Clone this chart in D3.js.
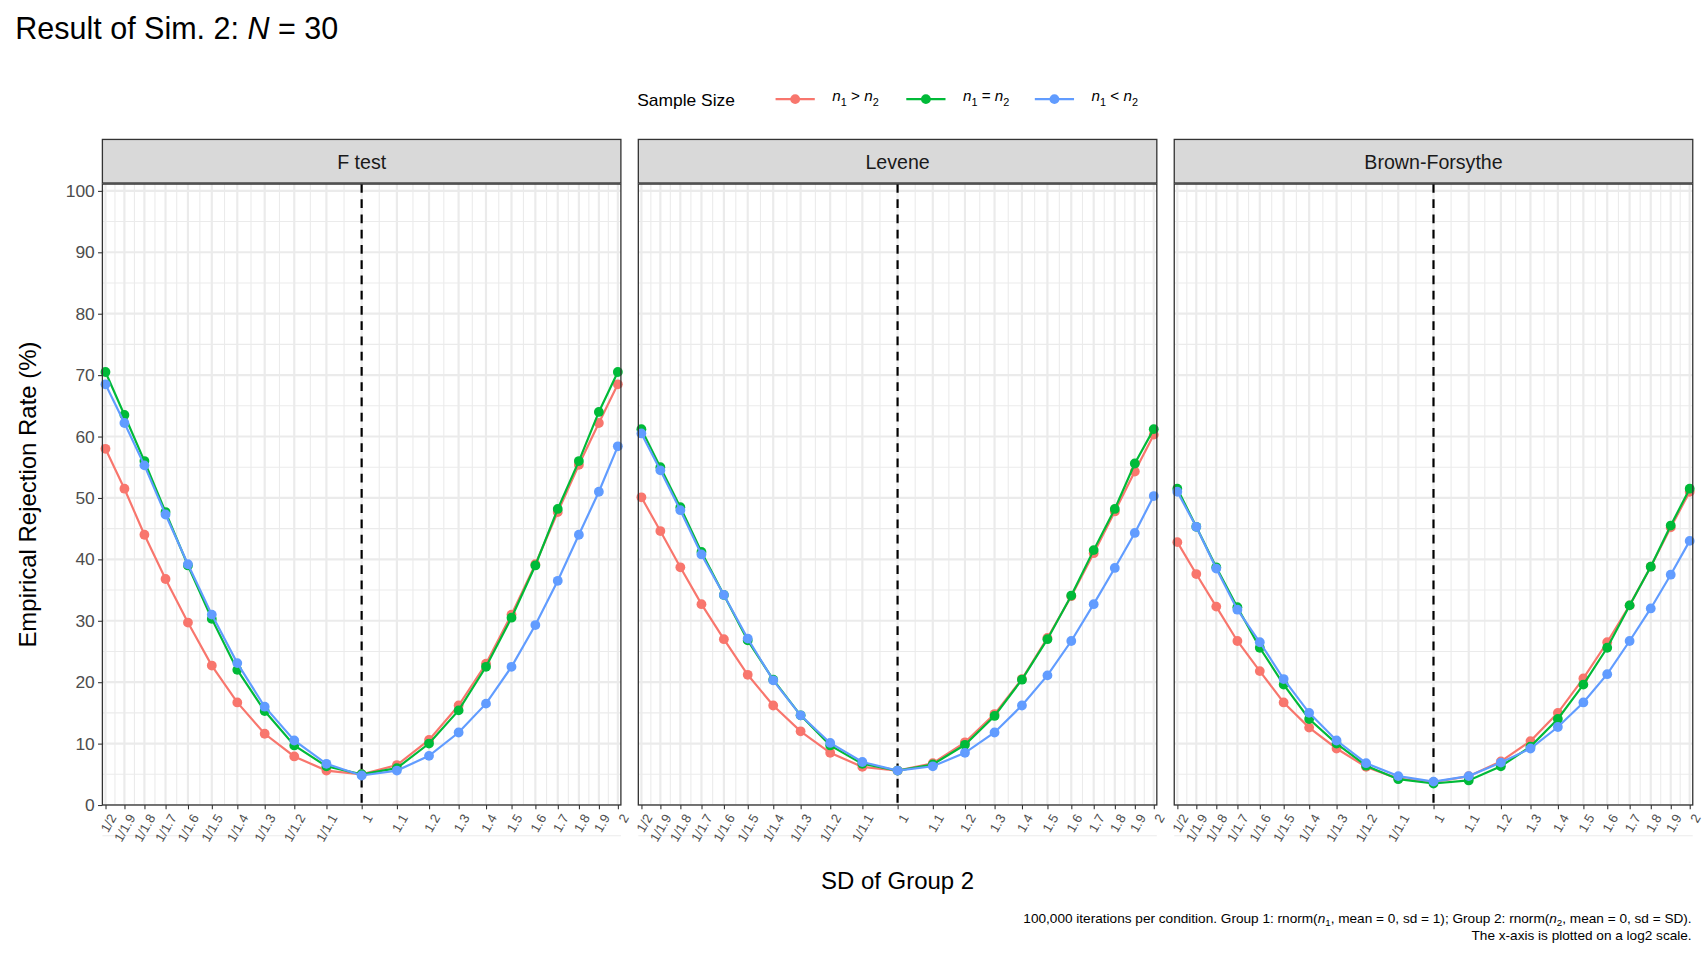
<!DOCTYPE html>
<html><head><meta charset="utf-8">
<script src="https://cdn.jsdelivr.net/npm/d3@7"></script>
<style>body{margin:0;background:#fff;font-family:Arial,"Liberation Sans",sans-serif}</style>
</head><body>
<script>
var sdLabels = ["1/2","1/1.9","1/1.8","1/1.7","1/1.6","1/1.5","1/1.4","1/1.3","1/1.2","1/1.1","1","1.1","1.2","1.3","1.4","1.5","1.6","1.7","1.8","1.9","2"];
var sdValues = [1/2,1/1.9,1/1.8,1/1.7,1/1.6,1/1.5,1/1.4,1/1.3,1/1.2,1/1.1,1,1.1,1.2,1.3,1.4,1.5,1.6,1.7,1.8,1.9,2];
var tests = ["F test", "Levene", "Brown-Forsythe"];
var groups = ["gt", "eq", "lt"];
var colors = {gt: "#F8766D", eq: "#00BA38", lt: "#619CFF"};

var fGt = [58,51.5,44,36.8,29.7,22.7,16.7,11.6,7.9,5.6,5,6.5,10.6,16.2,23,31,39.2,47.7,55.4,62.2,68.5];
var fEq = [70.5,63.5,56,47.7,39,30.3,22,15.3,9.7,6.3,5,6,10,15.4,22.5,30.5,39,48.2,56,64,70.5];
var fLt = [68.5,62.2,55.3,47.3,39.2,31,23.1,16,10.5,6.7,4.8,5.6,8,11.8,16.5,22.5,29.3,36.5,44,51,58.4];
var lGt = [50.1,44.6,38.7,32.7,27,21.2,16.2,12,8.5,6.2,5.6,6.8,10.2,14.8,20.5,27.2,34,41,47.8,54.3,60.3];
var lEq = [61.2,55,48.5,41.2,34.2,26.8,20.4,14.6,9.7,6.7,5.6,6.6,9.8,14.5,20.4,27,34.1,41.5,48.2,55.6,61.2];
var lLt = [60.5,54.5,48,40.8,34.2,27.1,20.3,14.6,10.1,7,5.6,6.3,8.5,11.8,16.2,21.1,26.7,32.7,38.6,44.3,50.3];
var bGt = [42.8,37.6,32.3,26.7,21.8,16.7,12.6,9.2,6.2,4.3,3.7,4.7,7.1,10.4,15,20.6,26.5,32.5,38.8,45.2,51];
var bEq = [51.5,45.3,38.7,32.2,25.6,19.6,14,10,6.4,4.2,3.5,4,6.3,9.5,14,19.6,25.6,32.5,38.8,45.5,51.5];
var bLt = [51,45.3,38.5,31.8,26.5,20.5,15,10.5,6.8,4.7,3.8,4.7,6.9,9.2,12.7,16.7,21.3,26.7,32,37.5,43];
var yTicks = [0,10,20,30,40,50,60,70,80,90,100];

var series = {
  "F test": {gt: fGt, eq: fEq, lt: fLt},
  "Levene": {gt: lGt, eq: lEq, lt: lLt},
  "Brown-Forsythe": {gt: bGt, eq: bEq, lt: bLt}
};

var W = 1708, H = 960, k0 = 1708 / 1568;
var svg = d3.select("body").append("svg").attr("width", W).attr("height", H)
  .append("g").attr("transform", "scale(" + k0 + ")");

var panelLeft = [94, 586, 1078], panelW = 476;
var stripTop = 128, stripH = 40, panelTop = 169, panelBottom = 739;

var y = d3.scaleLinear().domain([0, 101.1]).range([panelBottom, panelTop]);

svg.append("text").attr("x", 14).attr("y", 36).attr("font-size", 28)
  .html('Result of Sim. 2: <tspan font-style="italic">N</tspan> = 30');

// legend
var lg = svg.append("g").attr("font-size", 16);
lg.append("text").attr("x", 585).attr("y", 97).text("Sample Size");
var legItems = [
  {g: "gt", x: 712, op: ">"}, {g: "eq", x: 832, op: "="}, {g: "lt", x: 950, op: "<"}
];
legItems.forEach(function(d) {
  lg.append("line").attr("x1", d.x).attr("x2", d.x + 36).attr("y1", 91).attr("y2", 91)
    .attr("stroke", colors[d.g]).attr("stroke-width", 2);
  lg.append("circle").attr("cx", d.x + 18).attr("cy", 91).attr("r", 4.5).attr("fill", colors[d.g]);
  var t = lg.append("text").attr("x", d.x + 52).attr("y", 93).attr("font-size", 14);
  t.append("tspan").attr("font-style", "italic").text("n");
  t.append("tspan").attr("font-size", 10).attr("dy", 4).text("1");
  t.append("tspan").attr("dy", -4).text(" " + d.op + " ");
  t.append("tspan").attr("font-style", "italic").text("n");
  t.append("tspan").attr("font-size", 10).attr("dy", 4).text("2");
});

tests.forEach(function(test, i) {
  var x0 = panelLeft[i];
  var x = d3.scaleLinear().domain([-1.012, 1.012]).range([x0, x0 + panelW]);
  var g = svg.append("g");
  var lx = sdValues.map(function(v) { return Math.log2(v); });
  for (var k = 0; k < lx.length - 1; k++) {
    var mx = x((lx[k] + lx[k + 1]) / 2);
    g.append("line").attr("x1", mx).attr("x2", mx)
      .attr("y1", panelTop).attr("y2", panelBottom).attr("stroke", "#ebebeb").attr("stroke-width", 1);
  }
  yTicks.concat([105]).forEach(function(t) {
    var ym = y(t - 5);
    g.append("line").attr("x1", x0).attr("x2", x0 + panelW).attr("y1", ym).attr("y2", ym)
      .attr("stroke", "#ebebeb").attr("stroke-width", 1);
  });
  lx.forEach(function(v) {
    g.append("line").attr("x1", x(v)).attr("x2", x(v)).attr("y1", panelTop).attr("y2", panelBottom)
      .attr("stroke", "#ebebeb").attr("stroke-width", 2);
  });
  yTicks.forEach(function(t) {
    g.append("line").attr("x1", x0).attr("x2", x0 + panelW).attr("y1", y(t)).attr("y2", y(t))
      .attr("stroke", "#ebebeb").attr("stroke-width", 2);
  });
  g.append("line").attr("x1", x(0)).attr("x2", x(0)).attr("y1", panelTop).attr("y2", panelBottom)
    .attr("stroke", "#000").attr("stroke-width", 2).attr("stroke-dasharray", "8,6");
  groups.forEach(function(gr) {
    var vals = series[test][gr];
    var pts = vals.map(function(v, j) { return [x(lx[j]), y(v)]; });
    g.append("path").attr("d", d3.line()(pts)).attr("fill", "none")
      .attr("stroke", colors[gr]).attr("stroke-width", 2);
    g.selectAll(null).data(pts).enter().append("circle")
      .attr("cx", function(d) { return d[0]; }).attr("cy", function(d) { return d[1]; })
      .attr("r", 4.5).attr("fill", colors[gr]);
  });
  g.append("rect").attr("x", x0).attr("y", panelTop).attr("width", panelW).attr("height", panelBottom - panelTop)
    .attr("fill", "none").attr("stroke", "#333").attr("stroke-width", 1.2);
  g.append("rect").attr("x", x0).attr("y", stripTop).attr("width", panelW).attr("height", stripH)
    .attr("fill", "#d9d9d9").attr("stroke", "#333").attr("stroke-width", 1.2);
  g.append("text").attr("x", x0 + panelW / 2).attr("y", stripTop + 27).attr("text-anchor", "middle")
    .attr("font-size", 18).attr("fill", "#1a1a1a").text(test);
  var ax = g.append("g").attr("transform", "translate(0," + panelBottom + ")")
    .call(d3.axisBottom(x).tickValues(lx).tickFormat(function(d, j) { return sdLabels[j]; }).tickSize(4));
  ax.select(".domain").remove();
  ax.selectAll("line").attr("stroke", "#333");
  ax.selectAll("text").attr("font-size", 12).attr("fill", "#4d4d4d")
    .attr("text-anchor", "end").attr("dx", 0).attr("dy", 0)
    .attr("transform", "translate(4,8) rotate(-60)");
  if (i === 0) {
    var ay = g.append("g").attr("transform", "translate(" + x0 + ",0)")
      .call(d3.axisLeft(y).tickValues(yTicks).tickSize(4));
    ay.select(".domain").remove();
    ay.selectAll("line").attr("stroke", "#333");
    ay.selectAll("text").attr("font-size", 16).attr("fill", "#4d4d4d");
  }
});

svg.append("text").attr("transform", "translate(33,454) rotate(-90)").attr("text-anchor", "middle")
  .attr("font-size", 22).text("Empirical Rejection Rate (%)");
svg.append("text").attr("x", 824).attr("y", 816).attr("text-anchor", "middle")
  .attr("font-size", 22).text("SD of Group 2");

var cap = svg.append("g").attr("font-size", 12.5).attr("text-anchor", "end");
var c1 = cap.append("text").attr("x", 1553).attr("y", 847);
c1.append("tspan").text("100,000 iterations per condition. Group 1: rnorm(");
c1.append("tspan").attr("font-style", "italic").text("n");
c1.append("tspan").attr("font-size", 9).attr("dy", 3).text("1");
c1.append("tspan").attr("dy", -3).text(", mean = 0, sd = 1); Group 2: rnorm(");
c1.append("tspan").attr("font-style", "italic").text("n");
c1.append("tspan").attr("font-size", 9).attr("dy", 3).text("2");
c1.append("tspan").attr("dy", -3).text(", mean = 0, sd = SD).");
cap.append("text").attr("x", 1553).attr("y", 863).text("The x-axis is plotted on a log2 scale.");
</script>
</body></html>
